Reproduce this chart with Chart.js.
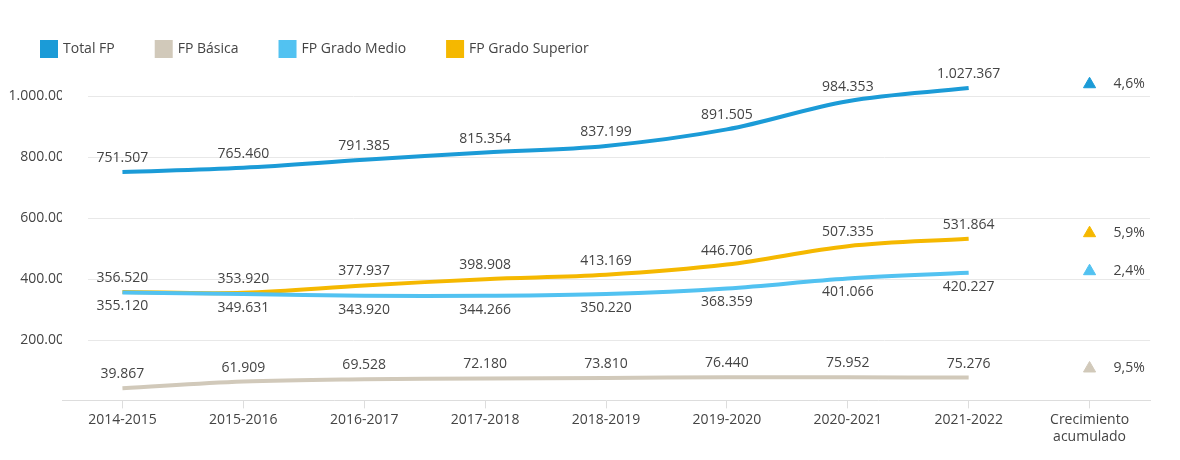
<!DOCTYPE html>
<html><head><meta charset="utf-8">
<script src="https://cdn.jsdelivr.net/npm/chart.js@4"></script>
<style>body{margin:0;background:#fff}#wrap{width:1180px;height:460px}</style>
</head><body><div id="wrap"><canvas id="c"></canvas></div>
<script>
const years = ['2014-2015','2015-2016','2016-2017','2017-2018','2018-2019','2019-2020','2020-2021','2021-2022'];
const labels = [...years, ['Crecimiento','acumulado']];
const totalFP = [751507,765460,791385,815354,837199,891505,984353,1027367];
const basica = [39867,61909,69528,72180,73810,76440,75952,75276];
const medio = [355120,349631,343920,344266,350220,368359,401066,420227];
const superior = [356520,353920,377937,398908,413169,446706,507335,531864];
const growth = ['4,6%','9,5%','2,4%','5,9%'];
const growthY = [1040000,105000,425000,550000];
const colors = ['#1b9bd7','#d1c9ba','#52c2f1','#f5b800'];
const names = ['Total FP','FP Básica','FP Grado Medio','FP Grado Superior'];
const series = [totalFP, basica, medio, superior];
const below = [false,false,true,false];

const fmt = v => v.toLocaleString('de-DE');
const font = { size: 14, family: '"Open Sans", sans-serif' };

const datasets = series.map((s,i) => ({
  label: names[i], data: s, borderColor: colors[i], backgroundColor: colors[i],
  borderWidth: 4, pointRadius: 0, tension: 0.35, labelBelow: below[i], order: i === 0 ? 0 : 1
}));
growth.forEach((g,i) => datasets.push({
  label: '_g' + i, growthText: g, showLine: false,
  data: [...years.map(() => null), growthY[i]],
  pointStyle: 'triangle', pointRadius: 7, backgroundColor: colors[i], borderColor: colors[i]
}));

const labelPlugin = {
  id: 'labels',
  beforeDatasetsDraw(chart) {
    const ctx = chart.ctx, y = chart.scales.y, a = chart.chartArea;
    ctx.save();
    ctx.strokeStyle = '#e8e8e8'; ctx.lineWidth = 1;
    for (let v = 200000; v <= 1000000; v += 200000) {
      const py = Math.round(y.getPixelForValue(v)) + 0.5;
      ctx.beginPath(); ctx.moveTo(88, py); ctx.lineTo(a.right, py); ctx.stroke();
    }
    ctx.restore();
  },
  afterDatasetsDraw(chart) {
    const ctx = chart.ctx;
    ctx.save();
    ctx.font = '14px "Open Sans", sans-serif';
    ctx.fillStyle = '#444';
    chart.data.datasets.forEach((ds, di) => {
      const meta = chart.getDatasetMeta(di);
      if (ds.growthText) {
        const p = meta.data[years.length];
        ctx.textAlign = 'left'; ctx.textBaseline = 'middle';
        ctx.fillText(ds.growthText, p.x + 24, p.y);
        return;
      }
      meta.data.forEach((p, i) => {
        ctx.textAlign = 'center';
        ctx.textBaseline = ds.labelBelow ? 'top' : 'bottom';
        ctx.fillText(fmt(ds.data[i]), p.x, ds.labelBelow ? p.y + 7 : p.y - 7);
      });
    });
    ctx.restore();
  }
};

new Chart(document.getElementById('c'), {
  type: 'line',
  data: { labels, datasets },
  plugins: [labelPlugin],
  options: {
    responsive: true, maintainAspectRatio: false, animation: false,
    layout: { padding: { left: 0, right: 30, top: 0, bottom: 12 } },
    plugins: {
      tooltip: { enabled: false },
      legend: {
        align: 'start',
        labels: {
          color: '#444', font,
          boxWidth: 14, boxHeight: 14, padding: 42,
          filter: item => !item.text.startsWith('_g')
        }
      }
    },
    scales: {
      x: {
        offset: true,
        grid: { display: true, drawOnChartArea: false, drawTicks: true, tickLength: 8, color: '#ddd', offset: false },
        border: { color: '#ddd' },
        ticks: { color: '#444', font }
      },
      y: {
        min: 0, max: 1100000,
        border: { display: false },
        grid: { display: false },
        afterFit: s => { s.width = 62; },
        ticks: {
          stepSize: 100000, padding: -18, color: '#444', font,
          callback: v => (v % 200000 === 0 ? fmt(v) : '')
        }
      }
    }
  }
});
</script></body></html>
